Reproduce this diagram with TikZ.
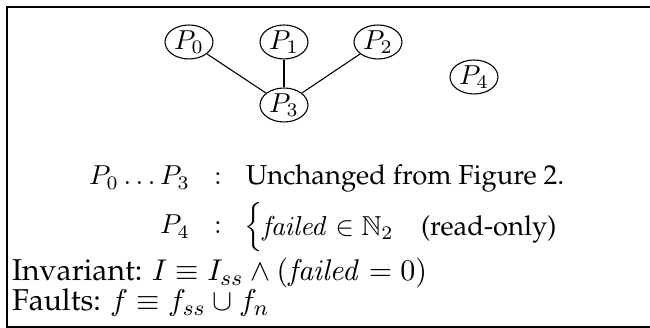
\documentclass[tikz,border=0pt]{standalone}
\usepackage[T1]{fontenc}
\usepackage{palatino}
\usepackage{amsmath,amssymb}
\usetikzlibrary{shapes.geometric}
\begin{document}
\begin{tikzpicture}[x=0.365pt,y=-0.365pt,
  proc/.style={draw,ellipse,line width=0.4pt,inner sep=0pt,minimum width=17.5pt,minimum height=12.4pt},
  link/.style={line width=0.4pt},
  frameline/.style={line width=0.4pt},
  txt/.style={inner sep=0pt,outer sep=0pt},
  bigtxt/.style={txt,font=\fontsize{11}{13}\selectfont}]
\useasboundingbox (0,0) rectangle (650,328);
% frame (right side cropped)
\draw[frameline] (660,7) -- (7,7) -- (7,327) -- (660,327);
% processes
\node[proc] (p0) at (189,42) {$P_0$};
\node[proc] (p1) at (284,42) {$P_1$};
\node[proc] (p2) at (378,42) {$P_2$};
\node[proc] (p3) at (284,105) {$P_3$};
\node[proc] (p4) at (474,77) {$P_4$};
\draw[link] (p0) -- (p3);
\draw[link] (p1) -- (p3);
\draw[link] (p2) -- (p3);
% table
\node[txt,anchor=base east] (l1) at (190,185) {$P_0\ldots P_3$};
\node[txt,anchor=base] (c1) at (218,185) {$:$};
\node[txt,anchor=base west] (r1) at (246,185) {Unchanged from Figure 2.};
\node[txt,anchor=base east] (l2) at (190,234) {$P_4$};
\node[txt,anchor=base] (c2) at (218,234) {$:$};
\node[txt,anchor=base west] (r2) at (244,234) {$\begin{cases}\mathit{failed}\in\mathbb{N}_2 & \text{(read-only)}\end{cases}$};
% invariant and faults
\node[bigtxt,anchor=base west] (inv) at (12,281) {Invariant: $I\equiv I_{ss}\wedge(\mathit{failed}=0)$};
\node[bigtxt,anchor=base west] (flt) at (12,311) {Faults: $f\equiv f_{ss}\cup f_n$};
\end{tikzpicture}
\end{document}
